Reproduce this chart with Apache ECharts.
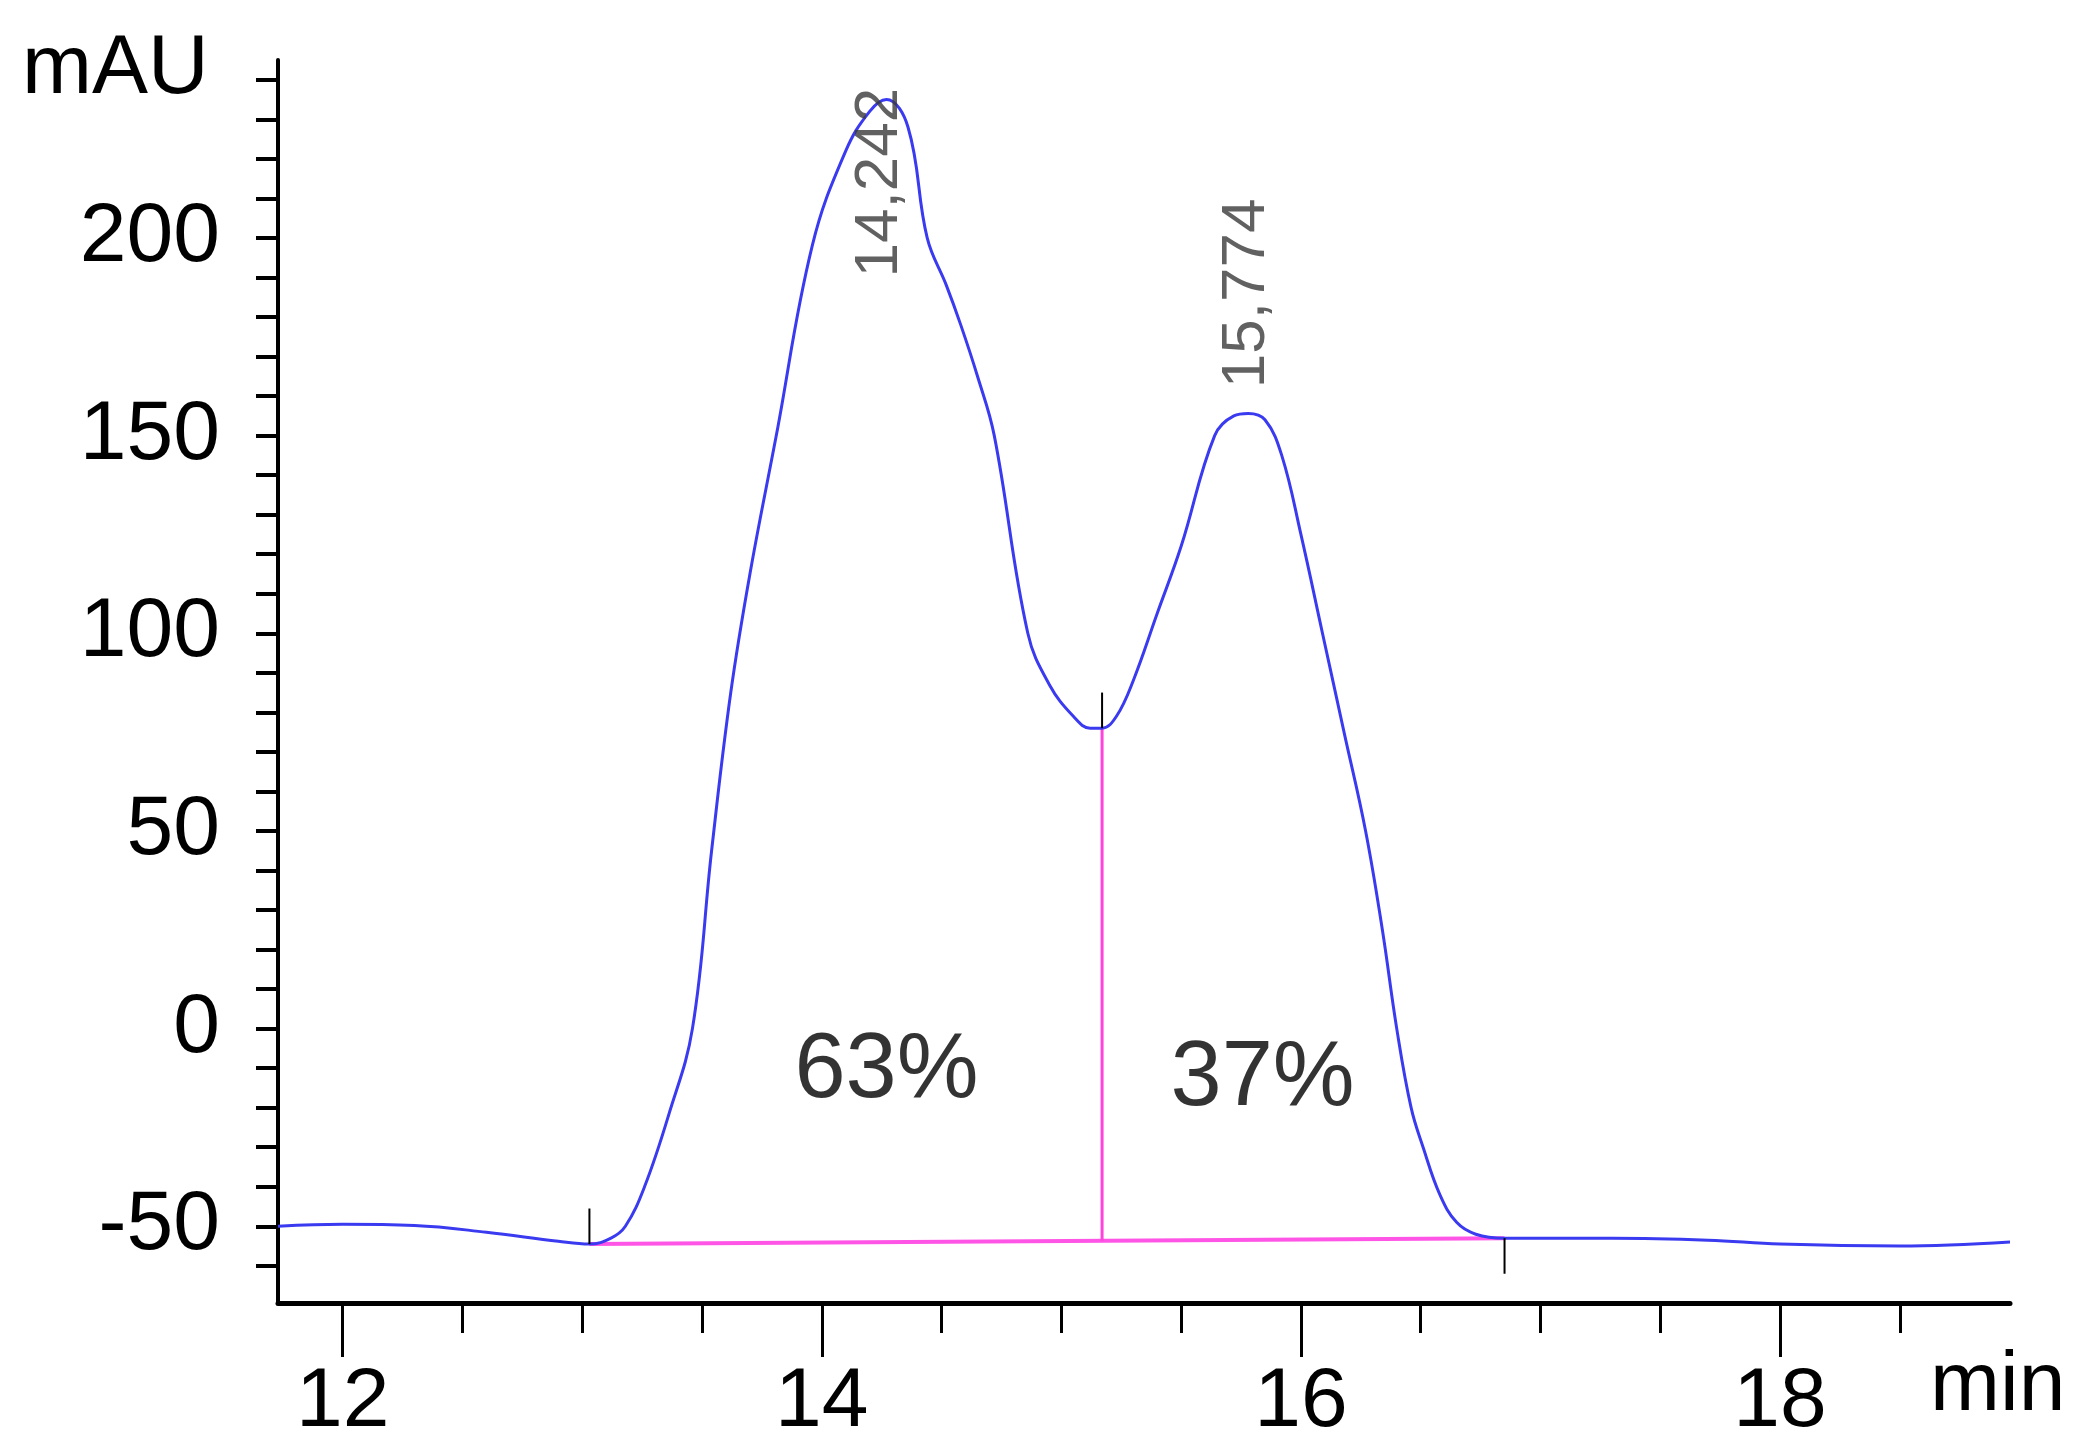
<!DOCTYPE html>
<html><head><meta charset="utf-8">
<script src="https://cdn.jsdelivr.net/npm/echarts@6/dist/echarts.min.js"></script>
<style>html,body{margin:0;padding:0;background:#fff}#c{width:2095px;height:1451px}</style>
</head><body><div id="c"></div>
<script>
const curveX = [11.73,12.0,12.3,12.6,12.9,13.03,13.12,13.18,13.26,13.36,13.46,13.54,13.62,13.7,13.81,13.96,14.1,14.2,14.27,14.36,14.44,14.52,14.58,14.65,14.72,14.86,14.95,15.05,15.12,15.17,15.23,15.3,15.4,15.5,15.64,15.72,15.78,15.85,15.92,16.0,16.09,16.18,16.27,16.34,16.4,16.46,16.51,16.58,16.65,16.73,16.85,17.3,17.7,18.0,18.5,18.96];
const curveY = [-50,-49.5,-49.8,-51.5,-53.8,-54.5,-53,-50,-40,-22,0,45,85,115,150,198,222,232,235,228,200,188,178,165,150,100,87,79,76,76,79,88,105,122,150,155,155.6,154,145,125,100,75,50,25,0,-20,-30,-42,-49,-52,-53,-53,-53.5,-54.5,-55,-54];
const baseX = [13.03,16.85];
const baseY = [-54.5,-53];
const splitX = 15.17, splitY = 76;
const peakTimes = [14.242,15.774];
const peakLabelY = [190,162];
const areaPct = ['63%','37%'];
const areaX = [14.27,15.84];
const areaY = [-11,-13];
const xMinorTicks = [12,12.5,13,13.5,14,14.5,15,15.5,16,16.5,17,17.5,18,18.5];
const xMajorTicks = [12,14,16,18];
const yTicks = [-60,-50,-40,-30,-20,-10,0,10,20,30,40,50,60,70,80,90,100,110,120,130,140,150,160,170,180,190,200,210,220,230,240];
const yLabels = [-50,0,50,100,150,200];

const F = 'Liberation Sans, Arial, sans-serif';
const chart = echarts.init(document.getElementById('c'));
const xCommon = {type:'value',min:11.73,max:18.96,splitLine:{show:false}};
chart.setOption({
  animation:false,
  grid:{left:278,right:85,top:60,bottom:148},
  xAxis:[
    Object.assign({},xCommon,{
      axisLine:{show:true,onZero:false,lineStyle:{color:'#000',width:5}},
      axisTick:{show:true,customValues:xMinorTicks,length:30,lineStyle:{color:'#000',width:3}},
      axisLabel:{customValues:xMajorTicks,fontSize:84,fontFamily:F,color:'#000',margin:58}
    }),
    Object.assign({},xCommon,{position:'bottom',
      axisLine:{show:false,onZero:false},
      axisTick:{show:true,customValues:xMajorTicks,length:54,lineStyle:{color:'#000',width:3}},
      axisLabel:{show:false}
    })
  ],
  yAxis:{type:'value',min:-69.4,max:245,splitLine:{show:false},
    axisLine:{show:true,lineStyle:{color:'#000',width:4}},
    axisTick:{show:true,customValues:yTicks,length:22,lineStyle:{color:'#000',width:4}},
    axisLabel:{customValues:yLabels,fontSize:84,fontFamily:F,color:'#000',margin:58}
  },
  graphic:[
    {type:'text',left:22,top:28,style:{text:'mAU',fontSize:84,fontFamily:F,fill:'#000'}},
    {type:'text',left:1930,top:1345,style:{text:'min',fontSize:84,fontFamily:F,fill:'#000'}}
  ],
  series:[
    {type:'line',data:baseX.map((x,i)=>[x,baseY[i]]),symbol:'none',lineStyle:{color:'#ff55e6',width:4},z:2},
    {type:'line',data:[[splitX,baseY[0]+(baseY[1]-baseY[0])*(splitX-baseX[0])/(baseX[1]-baseX[0])],[splitX,splitY]],symbol:'none',lineStyle:{color:'#ff44dd',width:3},z:2},
    {type:'line',data:curveX.map((x,i)=>[x,curveY[i]]),symbol:'none',smooth:0.4,lineStyle:{color:'#3a3af0',width:3},z:3},
    {type:'line',data:[[baseX[0],baseY[0]],[baseX[0],baseY[0]+9]],symbol:'none',lineStyle:{color:'#000',width:2},z:4},
    {type:'line',data:[[splitX,splitY],[splitX,splitY+9]],symbol:'none',lineStyle:{color:'#000',width:2},z:4},
    {type:'line',data:[[baseX[1],baseY[1]],[baseX[1],baseY[1]-9]],symbol:'none',lineStyle:{color:'#000',width:2},z:4},
    {type:'scatter',symbolSize:0,z:5,data:peakTimes.map((t,i)=>[t,peakLabelY[i]]),
      label:{show:true,position:'inside',rotate:90,align:'left',verticalAlign:'middle',formatter:p=>String(peakTimes[p.dataIndex]).replace('.',','),fontSize:62,fontFamily:F,color:'#3a3a3a'}},
    {type:'scatter',symbolSize:0,z:5,data:areaX.map((x,i)=>[x,areaY[i]]),
      label:{show:true,position:'inside',formatter:p=>areaPct[p.dataIndex],fontSize:92,fontFamily:F,color:'#000'}}
  ]
});
</script></body></html>
